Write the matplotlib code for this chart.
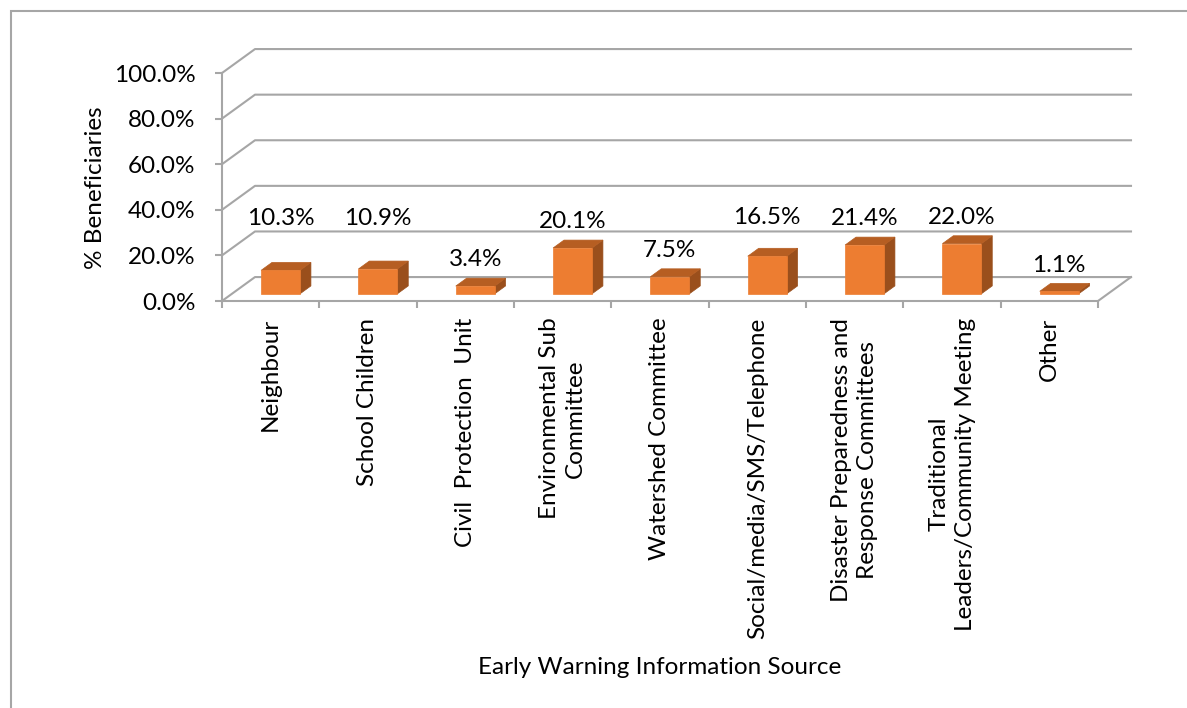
import matplotlib.pyplot as plt
from matplotlib.patches import Polygon, Rectangle

plt.rcParams['font.family'] = ['Lato', 'DejaVu Sans']

sources = ['Neighbour', 'School Children', 'Civil  Protection  Unit',
           'Environmental Sub\nCommittee', 'Watershed Committee',
           'Social/media/SMS/Telephone',
           'Disaster Preparedness and\nResponse Committees',
           'Traditional\nLeaders/Community Meeting', 'Other']
percent = [10.3, 10.9, 3.4, 20.1, 7.5, 16.5, 21.4, 22.0, 1.1]
y_ticks = [0, 20, 40, 60, 80, 100]

# a few labels sit higher than the rest (in % units)
label_lift = {0: 11.0, 1: 10.5, 5: 5.5}

FRONT = '#ED7D31'
TOP = '#B65E22'
SIDE = '#9A4F1C'
GRID = '#A6A6A6'
FS = 17.5

# oblique depth vector (one full depth unit) in data units
DX, DY = 0.339, 10.5
T0, T1 = 0.30, 0.63   # front / back of the bars
BW = 0.40


def proj(x, y, t):
    return x + DX * t, y + DY * t


fig = plt.figure(figsize=(11.87, 7.08), dpi=100)
ax = fig.add_axes([222 / 1187, 407 / 708, 876 / 1187, 228 / 708])
n = len(sources)
ax.set_xlim(0, n)
ax.set_ylim(0, 100)
ax.patch.set_visible(False)

# back wall, left wall and floor
for v in y_ticks:
    xs, ys = zip(proj(0, v, 0), proj(0, v, 1), proj(n, v, 1))
    ax.plot(xs, ys, color=GRID, lw=1.5, clip_on=False, zorder=1)
xs, ys = zip(proj(n, 0, 0), proj(n, 0, 1))
ax.plot(xs, ys, color=GRID, lw=1.5, clip_on=False, zorder=1)

# 3D columns
for i, v in enumerate(percent):
    x0 = i + 0.5 - BW / 2
    x1 = i + 0.5 + BW / 2
    front = [proj(x0, 0, T0), proj(x1, 0, T0), proj(x1, v, T0), proj(x0, v, T0)]
    side = [proj(x1, 0, T0), proj(x1, 0, T1), proj(x1, v, T1), proj(x1, v, T0)]
    top = [proj(x0, v, T0), proj(x1, v, T0), proj(x1, v, T1), proj(x0, v, T1)]
    for pts, c in ((side, SIDE), (top, TOP), (front, FRONT)):
        ax.add_patch(Polygon(pts, closed=True, facecolor=c, edgecolor=c,
                             lw=0.5, clip_on=False, zorder=3))
    lx, _ = proj(i + 0.5, v, T0)
    ly = v + DY * T1 + 5.2 + label_lift.get(i, 0)
    ax.text(lx, ly, f'{v:.1f}%', ha='center', va='baseline', fontsize=FS,
            zorder=4, clip_on=False)

for s in ('top', 'right'):
    ax.spines[s].set_visible(False)
for s in ('left', 'bottom'):
    ax.spines[s].set_color(GRID)
    ax.spines[s].set_linewidth(1.5)

ax.set_yticks(y_ticks)
ax.set_yticklabels([f'{t:.1f}%' for t in y_ticks], fontsize=FS)
ax.tick_params(axis='y', direction='out', length=5, width=1.5, color=GRID, pad=14)

ax.set_xticks([i + 0.5 for i in range(n)])
ax.set_xticklabels(sources, rotation=90, va='top', ha='center',
                   multialignment='center', fontsize=FS, linespacing=1.3)
ax.set_xticks(range(n + 1), minor=True)
ax.tick_params(axis='x', which='major', length=0, pad=12)
ax.tick_params(axis='x', which='minor', direction='out', length=5, width=1.5, color=GRID)

fig.text(95 / 1187, 1 - 188 / 708, '% Beneficiaries', rotation=90,
         ha='center', va='center', fontsize=FS)
fig.text(660 / 1187, 1 - 667 / 708, 'Early Warning Information Source',
         ha='center', va='center', fontsize=FS)

# outer chart-area border
fig.patches.append(Rectangle((11 / 1187, -0.2), 1.5, 1.2 - 11 / 708,
                             transform=fig.transFigure, fill=False,
                             edgecolor='#A6A6A6', lw=1.5, figure=fig))

fig.savefig('out.png', dpi=100)
